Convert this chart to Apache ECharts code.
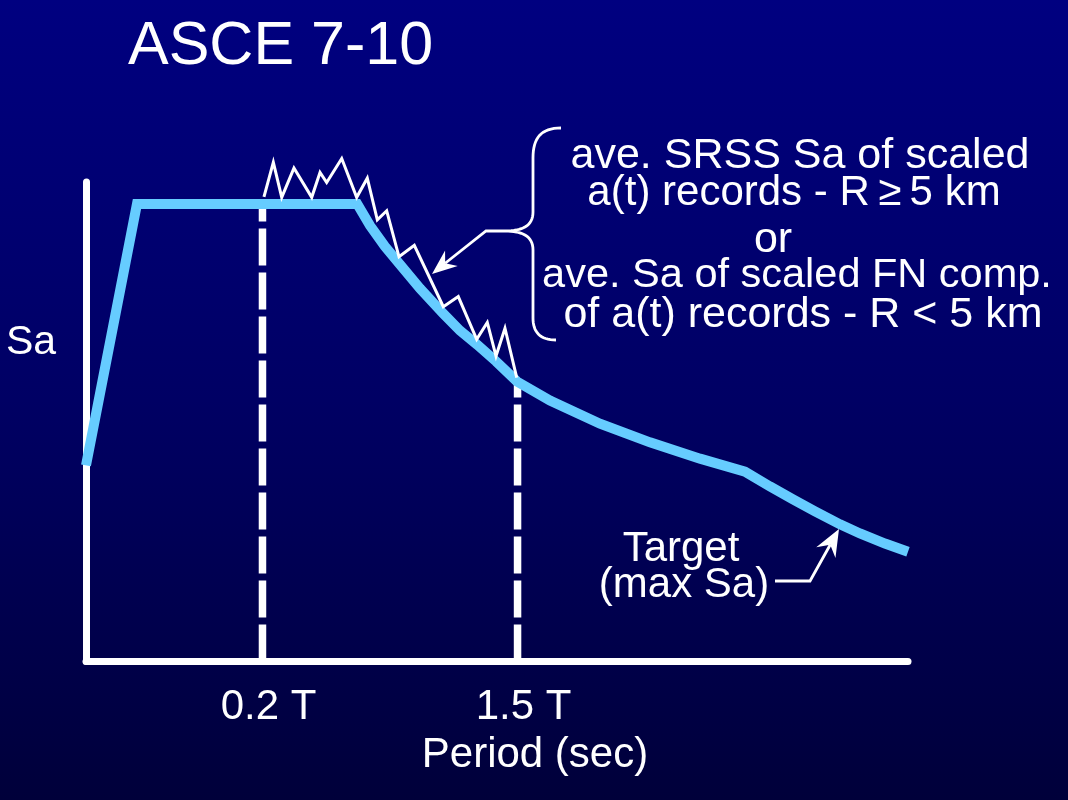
<!DOCTYPE html>
<html><head><meta charset="utf-8">
<script src="https://cdn.jsdelivr.net/npm/echarts@6/dist/echarts.min.js"></script>
<style>
html,body{margin:0;padding:0;background:#000060;}
#c{width:1068px;height:800px;background:linear-gradient(to bottom,#000080 0%,#000064 50%,#00003a 100%);}
</style>
</head><body><div id="c"></div>
<script>
// Target spectrum (max Sa), schematic units
const periodTarget = [0, 0.62, 3.30, 3.455, 3.637, 3.820, 4.063, 4.343, 4.550, 4.757, 4.988, 5.243, 5.645, 6.253, 6.861, 7.470, 8.017, 8.321, 8.601, 8.869, 9.173, 9.416, 9.720, 10];
const saTarget     = [4.09, 9.54, 9.54, 9.09, 8.655, 8.28, 7.78, 7.26, 6.90, 6.61, 6.26, 5.84, 5.44, 4.96, 4.57, 4.23, 3.96, 3.65, 3.38, 3.13, 2.86, 2.67, 2.46, 2.29];
// average of scaled records (zig-zag)
const periodRecords = [2.165, 2.279, 2.381, 2.530, 2.746, 2.847, 2.928, 3.111, 3.293, 3.422, 3.544, 3.658, 3.808, 3.994, 4.347, 4.529, 4.753, 4.882, 4.988, 5.097, 5.240];
const saRecords     = [9.69, 10.41, 9.68, 10.29, 9.68, 10.20, 9.99, 10.49, 9.68, 10.08, 9.21, 9.40, 8.44, 8.68, 7.40, 7.61, 6.72, 7.07, 6.37, 6.95, 5.92];
// tick labels / period range bounds
const tickValues = [2.147, 5.25];
const tickLabels = ['0.2 T', '1.5 T'];
const guideTops  = [9.54, 5.84];

const FONT = '"Liberation Sans", Arial, Helvetica, sans-serif';
const chart = echarts.init(document.getElementById('c'), null, {renderer: 'canvas'});

function zip(a, b) { return a.map((v, i) => [v, b[i]]); }

function arrowHead(tip, from, len, half, notch) {
  const dx = tip[0] - from[0], dy = tip[1] - from[1];
  const L = Math.hypot(dx, dy);
  const ux = dx / L, uy = dy / L, nx = -uy, ny = ux;
  const bx = tip[0] - ux * len, by = tip[1] - uy * len;
  return {
    head: [tip, [bx + nx * half, by + ny * half], [tip[0] - ux * notch, tip[1] - uy * notch], [bx - nx * half, by - ny * half]],
    end: [tip[0] - ux * notch, tip[1] - uy * notch]
  };
}

// sample a chain of segments: each is either ['L', p] or ['C', c1, c2, p]
function pathPoints(start, segs) {
  const pts = [start];
  let cur = start;
  segs.forEach(s => {
    if (s[0] === 'L') { pts.push(s[1]); cur = s[1]; }
    else {
      const c1 = s[1], c2 = s[2], p = s[3];
      for (let k = 1; k <= 16; k++) {
        const t = k / 16, m = 1 - t;
        pts.push([
          m*m*m*cur[0] + 3*m*m*t*c1[0] + 3*m*t*t*c2[0] + t*t*t*p[0],
          m*m*m*cur[1] + 3*m*m*t*c1[1] + 3*m*t*t*c2[1] + t*t*t*p[1]
        ]);
      }
      cur = p;
    }
  });
  return pts;
}

function text(str, x, y, size) {
  return {
    type: 'text', z: 100,
    style: {
      text: str, x: x, y: y, fill: '#ffffff',
      font: size + 'px ' + FONT,
      align: 'center', verticalAlign: 'middle',
      textAlign: 'center', textVerticalAlign: 'middle'
    }
  };
}

const a1 = arrowHead([432, 274], [486, 230], 25, 10, 17);
const a2 = arrowHead([839, 529], [810, 581], 27, 11, 18);

const bracePts = pathPoints([561, 128], [
  ['C', [541, 128], [533, 138], [533, 158]],
  ['L', [533, 212]],
  ['C', [533, 226], [522, 231], [505, 231]],
  ['C', [522, 231], [533, 236], [533, 250]],
  ['L', [533, 318]],
  ['C', [533, 332], [540, 340], [556, 340]]
]);

const guideSeries = tickValues.map((x, i) => ({
  type: 'line', z: 1, symbol: 'none', silent: true, clip: false,
  data: [[x, 0], [x, guideTops[i]]],
  lineStyle: {color: '#ffffff', width: 7.5, type: [37, 7], cap: 'butt'}
}));

chart.setOption({
  backgroundColor: 'transparent',
  animation: false,
  title: {
    text: 'ASCE 7-10', left: 123, top: 12,
    textStyle: {color: '#ffffff', fontSize: 61, fontWeight: 'normal', fontFamily: FONT, lineHeight: 61}
  },
  grid: {left: 86, right: 160, top: 182, bottom: 138.5},
  xAxis: {
    type: 'value', min: 0, max: 10,
    axisLine: {show: true, onZero: false, lineStyle: {color: '#ffffff', width: 7}},
    axisTick: {show: false},
    splitLine: {show: false},
    axisLabel: {
      customValues: tickValues,
      formatter: function (v) {
        let best = 0;
        tickValues.forEach((t, i) => { if (Math.abs(t - v) < Math.abs(tickValues[best] - v)) best = i; });
        return tickLabels[best];
      },
      color: '#ffffff', fontSize: 42, fontFamily: FONT, lineHeight: 42,
      margin: 25, padding: [0, 0, 0, 12]
    }
  },
  yAxis: {
    type: 'value', min: 0, max: 10,
    axisLine: {show: true, onZero: false, lineStyle: {color: '#ffffff', width: 7}},
    axisTick: {show: false},
    splitLine: {show: false},
    axisLabel: {show: false}
  },
  series: guideSeries.concat([
    {
      name: 'Target (max Sa)', type: 'line', z: 3, symbol: 'none', clip: false,
      data: zip(periodTarget, saTarget),
      lineStyle: {color: '#66ccff', width: 10, join: 'miter'}
    },
    {
      name: 'ave. Sa of scaled records', type: 'line', z: 4, symbol: 'none', clip: false,
      data: zip(periodRecords, saRecords),
      lineStyle: {color: '#ffffff', width: 3, join: 'miter'}
    }
  ]),
  graphic: [
    text('Sa', 31, 343, 41),
    text('Period (sec)', 535, 755, 42),
    text('ave. SRSS Sa of scaled', 800, 156, 43),
    text('a(t) records - R\u2009\u2265\u20095 km', 794, 193, 42),
    text('or', 773, 240, 43),
    text('ave. Sa of scaled FN comp.', 797, 276, 41.5),
    text('of a(t) records - R < 5 km', 803, 315, 43),
    text('Target', 681, 549, 42),
    text('(max Sa)', 684, 585, 42),
    {
      type: 'polyline', z: 100,
      shape: {points: bracePts},
      style: {fill: 'none', stroke: '#ffffff', lineWidth: 2.8}
    },
    {
      type: 'polyline', z: 100,
      shape: {points: [[505, 231], [486, 231], a1.end]},
      style: {fill: 'none', stroke: '#ffffff', lineWidth: 2.8}
    },
    {type: 'polygon', z: 100, shape: {points: a1.head}, style: {fill: '#ffffff'}},
    {
      type: 'polyline', z: 100,
      shape: {points: [[775, 581], [810, 581], a2.end]},
      style: {fill: 'none', stroke: '#ffffff', lineWidth: 2.8}
    },
    {type: 'polygon', z: 100, shape: {points: a2.head}, style: {fill: '#ffffff'}}
  ]
});
</script>
</body></html>
